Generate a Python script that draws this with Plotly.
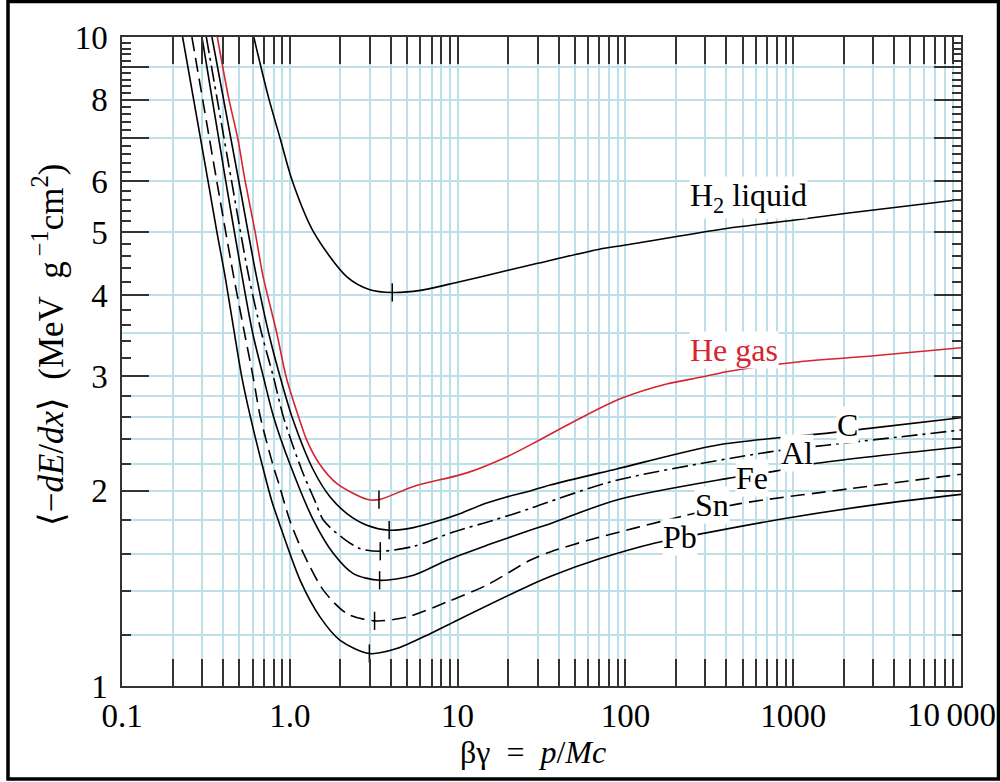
import numpy as np
import plotly.graph_objects as go

# ---------------- data ----------------
h2_x = [0.61, 0.746, 0.877, 1.04, 1.39, 2.19, 3.0, 4.08, 6.0, 10, 20, 30, 70, 100, 400, 1000, 2080, 10000]
h2_y = [10, 8.08, 6.97, 5.98, 5.0, 4.27, 4.08, 4.04, 4.07, 4.19, 4.37, 4.48, 4.71, 4.78, 5.07, 5.22, 5.35, 5.62]

he_x = [0.37, 0.431, 0.49, 0.5416, 0.622, 0.69, 0.838, 0.952, 1.127, 1.264, 1.50, 1.91, 2.88, 3.40,
        5.46, 11.35, 20, 30, 50, 93, 176, 280, 401, 1096, 3140, 10000]
he_y = [10, 8.08, 6.97, 6.0, 5.0, 4.3, 3.49, 2.99, 2.60, 2.39, 2.20, 2.05, 1.94, 1.937,
        2.03, 2.13, 2.26, 2.385, 2.56, 2.77, 2.92, 2.99, 3.05, 3.16, 3.23, 3.32]

c_x = [0.3436, 0.4965, 0.63, 0.75, 0.877, 1.03, 1.384, 1.74, 2.19, 2.88, 3.91, 5.46, 7.87, 10.4,
       13.6, 19.6, 27, 35.6, 88.7, 350, 1656, 2674, 10000]
c_y = [10, 6.0, 4.3, 3.49, 2.99, 2.60, 2.15, 1.955, 1.844, 1.769, 1.738, 1.754, 1.80, 1.844,
       1.898, 1.955, 1.998, 2.04, 2.16, 2.35, 2.455, 2.49, 2.59]

al_x = [0.318, 0.4497, 0.567, 0.68, 0.80, 0.915, 1.18, 1.41, 1.588, 2.09, 2.63, 3.46, 5.46, 9.44,
        16.3, 27, 35.6, 88.7, 726, 1580, 10000]
al_y = [10, 6.0, 4.3, 3.49, 2.99, 2.60, 2.15, 1.93, 1.80, 1.687, 1.628, 1.613, 1.641, 1.727,
        1.80, 1.877, 1.925, 2.075, 2.295, 2.35, 2.48]

fe_x = [0.2995, 0.415, 0.518, 0.602, 0.697, 0.80, 1.0, 1.384, 1.82, 2.39, 3.43, 5.46, 8.63, 14.9,
        27, 35.6, 88.7, 401, 796, 1315, 10000]
fe_y = [10, 6.0, 4.3, 3.49, 2.99, 2.60, 2.20, 1.80, 1.60, 1.49, 1.455, 1.481, 1.562, 1.647,
        1.738, 1.779, 1.935, 2.087, 2.145, 2.20, 2.335]

sn_x = [0.261, 0.367, 0.461, 0.538, 0.605, 0.667, 0.79, 0.86, 1.0, 1.207, 1.588, 2.19, 3.20, 4.98,
        8.63, 14.9, 27, 35.6, 60, 226, 482, 2180, 10000]
sn_y = [10, 6.0, 4.3, 3.49, 2.99, 2.60, 2.20, 2.05, 1.80, 1.60, 1.404, 1.293, 1.26, 1.277,
        1.347, 1.43, 1.562, 1.609, 1.677, 1.83, 1.91, 2.014, 2.12]

pb_x = [0.2297, 0.3255, 0.368, 0.41, 0.468, 0.518, 0.582, 0.682, 0.78, 0.86, 1.153, 1.517, 1.995,
        2.98, 4.34, 6.86, 9.9, 27, 35.6, 70, 146.5, 298, 872, 3440, 10000]
pb_y = [10, 6.0, 5.0, 4.3, 3.49, 2.99, 2.60, 2.20, 1.93, 1.79, 1.455, 1.277, 1.176,
        1.122, 1.142, 1.204, 1.262, 1.43, 1.475, 1.57, 1.658, 1.72, 1.81, 1.91, 1.974]

# minimum-ionization positions (small vertical marks)
min_x = [4.08, 3.40, 3.91, 3.46, 3.43, 3.20, 2.98]
min_y = [4.04, 1.937, 1.738, 1.613, 1.455, 1.26, 1.122]

# curve labels
label_text = ["H<sub>2</sub> liquid", "He gas", "C", "Al", "Fe", "Sn", "Pb"]
label_x = [545, 445, 2115, 1050, 568, 328, 211]
label_y = [5.66, 3.29, 2.52, 2.285, 2.09, 1.898, 1.694]
label_color = ["black", "#d7242f", "black", "black", "black", "black", "black"]

x_tickvals = [0.1, 1, 10, 100, 1000]
x_ticktext = ["0.1", "1.0", "10", "100", "1000"]
x_last_label = "10\u2009000"   # drawn right-aligned at the frame, as in the reference
y_tickvals = [1, 2, 3, 4, 5, 6, 8, 10]
y_ticktext = ["1", "2", "3", "4", "5", "6", "8", "10"]
y_unlabeled_long = [7, 9]
y_gridvals = [1.2, 1.4, 1.6, 1.8, 2.0, 2.2, 2.4, 2.6, 2.8, 3.0, 3.5, 4, 5, 6, 7, 8, 9]

# ---------------- styling ----------------
RED = "#d7242f"
GRID = "#bcdfe9"
AX = "#333333"
SERIF = "Liberation Serif, Times New Roman, DejaVu Serif, serif"

x_minor = [m * 10.0 ** d for d in range(-1, 4) for m in range(2, 10)]
y_minor = [round(1 + 0.2 * k, 1) for k in range(1, 45) if abs((1 + 0.2 * k) - round(1 + 0.2 * k)) > 1e-6]

curves = [
    (h2_x, h2_y, "black", "solid", "y3"),
    (he_x, he_y, RED, "solid", "y"),
    (c_x, c_y, "black", "solid", "y"),
    (al_x, al_y, "black", "16px,5px,3px,5px", "y"),
    (fe_x, fe_y, "black", "solid", "y"),
    (sn_x, sn_y, "black", "14px,7px", "y"),
    (pb_x, pb_y, "black", "solid", "y"),
]

fig = go.Figure()
for xs, ys, col, dash, yax in curves:
    fig.add_trace(go.Scatter(
        x=xs, y=ys, mode="lines", showlegend=False, hoverinfo="skip", yaxis=yax,
        line=dict(color=col, width=1.6, dash=dash, shape="spline", smoothing=0.8),
    ))

fig.add_trace(go.Scatter(
    x=min_x, y=min_y, mode="markers", showlegend=False, hoverinfo="skip", yaxis="y2",
    marker=dict(symbol="line-ns", size=13, color="black", line=dict(color="black", width=1.5)),
))

for t, lx, ly, col in zip(label_text, label_x, label_y, label_color):
    fig.add_annotation(
        x=np.log10(lx), y=np.log10(ly), xref="x", yref="y", text=t, showarrow=False,
        font=dict(family=SERIF, size=32, color=col), bgcolor="white", borderpad=0,
    )

L, R, T, B = 122, 39, 37, 96
W, H = 1000, 782
pw, ph = W - L - R, H - T - B

# last x tick label, right-aligned inside the frame
fig.add_annotation(
    x=(997 - L) / pw, y=((H - B) - 715) / ph, xref="paper", yref="paper",
    xanchor="right", yanchor="middle", text=x_last_label, showarrow=False,
    font=dict(family=SERIF, size=33, color="black"), borderpad=0,
)

# axis titles
fig.add_annotation(
    x=(533 - L) / pw, y=((H - B) - 752) / ph, xref="paper", yref="paper",
    xanchor="center", yanchor="middle",
    text="βγ\u2002=\u2002<i>p</i>/<i>Mc</i>", showarrow=False,
    font=dict(family=SERIF, size=32, color="black"),
)
fig.add_annotation(
    x=(48 - L) / pw, y=((H - B) - 345) / ph, xref="paper", yref="paper",
    xanchor="center", yanchor="middle",
    text="\u27e8\u2212<i>dE</i>/<i>dx</i>\u27e9\u2002(MeV\u2002g<sup>\u2009\u22121</sup>cm<sup>2</sup>)",
    textangle=-90, showarrow=False,
    font=dict(family=SERIF, size=35, color="black"),
)

# outer frame
fig.add_shape(type="rect", xref="paper", yref="paper",
              x0=(8 - L) / pw, x1=(998.5 - L) / pw,
              y0=((H - B) - 779) / ph, y1=((H - B) - 1.5) / ph,
              line=dict(color="black", width=3.5), fillcolor="rgba(0,0,0,0)", layer="above")

fig.update_layout(
    width=W, height=H, margin=dict(l=L, r=R, t=T, b=B, autoexpand=False), autosize=False,
    paper_bgcolor="white", plot_bgcolor="white",
    xaxis=dict(
        type="log", range=[-1, 4], tickvals=x_tickvals, ticktext=x_ticktext,
        ticks="inside", ticklen=27, tickwidth=1.5, tickcolor=AX,
        showline=True, linecolor=AX, linewidth=1.5, mirror="allticks",
        showgrid=True, gridcolor=GRID, gridwidth=2, zeroline=False,
        ticklabeloverflow="allow", automargin=False,
        tickfont=dict(family=SERIF, size=33, color="black"),
        minor=dict(tickvals=x_minor, ticks="inside", ticklen=8, tickwidth=1.5, tickcolor=AX,
                   showgrid=True, gridcolor=GRID, gridwidth=2),
    ),
    yaxis=dict(
        type="log", range=[0, 1], tickvals=y_tickvals, ticktext=y_ticktext,
        ticks="inside", ticklen=27, tickwidth=1.5, tickcolor=AX,
        showline=True, linecolor=AX, linewidth=1.5, mirror="allticks",
        showgrid=False, zeroline=False, ticklabelstandoff=6, automargin=False,
        tickfont=dict(family=SERIF, size=33, color="black"),
        minor=dict(tickvals=y_minor, ticks="inside", ticklen=9, tickwidth=1.5, tickcolor=AX,
                   showgrid=False),
    ),
    yaxis2=dict(
        type="log", range=[0, 1], overlaying="y", side="left", tickvals=y_gridvals,
        showticklabels=False, ticks="", showline=False, zeroline=False, automargin=False,
        showgrid=True, gridcolor=GRID, gridwidth=2,
    ),
    yaxis3=dict(
        type="log", range=[0, 1], overlaying="y", side="left", tickvals=y_unlabeled_long,
        showticklabels=False, ticks="inside", ticklen=27, tickwidth=1.5, tickcolor=AX,
        showline=True, linecolor=AX, linewidth=1.5, mirror="allticks",
        zeroline=False, automargin=False, showgrid=False,
    ),
)

fig.write_html(
    "out.html",
    config={"responsive": False, "displayModeBar": False},
    post_script="document.body.style.margin='0px';document.body.style.overflow='hidden';",
)
